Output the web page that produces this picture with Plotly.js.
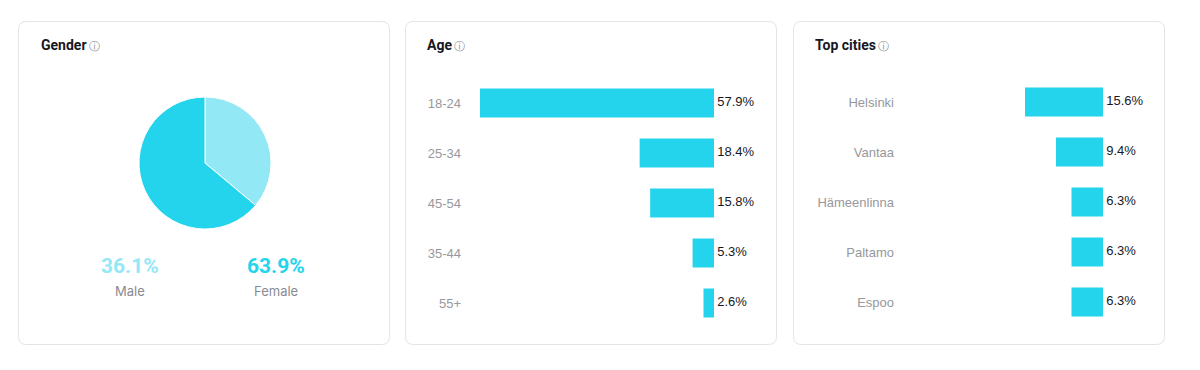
<!DOCTYPE html>
<html>
<head>
<meta charset="utf-8">
<script src="https://cdn.plot.ly/plotly-3.0.1.min.js"></script>
<style>
html,body{margin:0;padding:0;background:#fff;}
#chart{width:1200px;height:370px;}
</style>
</head>
<body>
<div id="chart"></div>
<script>
// ---- data ----
const genderLabels = ["Male", "Female"];
const genderValues = [36.1, 63.9];

const ageCategories = ["18-24", "25-34", "45-54", "35-44", "55+"];
const ageValues = [57.9, 18.4, 15.8, 5.3, 2.6];

const cityCategories = ["Helsinki", "Vantaa", "Hämeenlinna", "Paltamo", "Espoo"];
const cityValues = [15.6, 9.4, 6.3, 6.3, 6.3];

const panelTitles = ["Gender", "Age", "Top cities"];

// ---- styling ----
const W = 1200, H = 370;
const BAR = "#23d4ec";
const LIGHT = "#93e8f5";
const px = x => x / W;
const py = y => 1 - y / H;

function roundRect(x0, y0, x1, y1, r) {
  const rx = r / W, ry = r / H;
  const X0 = px(x0), X1 = px(x1), Y0 = py(y0), Y1 = py(y1);
  return `M ${X0 + rx} ${Y0} L ${X1 - rx} ${Y0} Q ${X1} ${Y0} ${X1} ${Y0 - ry} ` +
         `L ${X1} ${Y1 + ry} Q ${X1} ${Y1} ${X1 - rx} ${Y1} ` +
         `L ${X0 + rx} ${Y1} Q ${X0} ${Y1} ${X0} ${Y1 + ry} ` +
         `L ${X0} ${Y0 - ry} Q ${X0} ${Y0} ${X0 + rx} ${Y0} Z`;
}

const cards = [[18.5, 21.5, 389.5, 344.5], [405.5, 21.5, 776.5, 344.5], [793.5, 21.5, 1164.5, 344.5]];
const shapes = cards.map(c => ({
  type: "path", xref: "paper", yref: "paper", path: roundRect(c[0], c[1], c[2], c[3], 8),
  line: {color: "#e4e4e6", width: 1}, fillcolor: "rgba(0,0,0,0)", layer: "below"
}));

const titleFont = {family: "Roboto, Inter, sans-serif", size: 14, color: "#161823"};
const titleX = [39, 425, 813];
const annotations = [];
panelTitles.forEach((t, i) => {
  annotations.push({xref: "paper", yref: "paper", x: px(titleX[i]), y: py(45), xanchor: "left", yanchor: "middle",
    text: "<b>" + t + "</b><span style='font-size:9px'> </span><span style='font-family:DejaVu Sans;font-size:11px;color:#8a8b91'>ⓘ</span>",
    showarrow: false, font: titleFont});
});

// Gender percent labels
const genderColors = [LIGHT, BAR];
const genderX = [130, 276];
genderLabels.forEach((lab, i) => {
  annotations.push({xref: "paper", yref: "paper", x: px(genderX[i]), y: py(266), xanchor: "center", yanchor: "middle",
    text: "<b>" + genderValues[i].toFixed(1) + "%</b>", showarrow: false,
    font: {family: "Roboto, sans-serif", size: 21, color: genderColors[i]}});
  annotations.push({xref: "paper", yref: "paper", x: px(genderX[i]), y: py(291), xanchor: "center", yanchor: "middle",
    text: lab, showarrow: false, font: {family: "Inter, sans-serif", size: 13, color: "#8a8b91"}});
});

const labelFont = {family: "Liberation Sans, Arial, sans-serif", size: 13, color: "#161823"};

const data = [
  {
    type: "pie", labels: genderLabels, values: genderValues, sort: false, direction: "clockwise",
    rotation: 0, textinfo: "none", hoverinfo: "label+percent",
    marker: {colors: [LIGHT, BAR], line: {color: "#ffffff", width: 1}},
    domain: {x: [px(139), px(271)], y: [py(229), py(97)]}, showlegend: false
  },
  {
    type: "bar", orientation: "h", x: ageValues, y: ageCategories, xaxis: "x", yaxis: "y",
    marker: {color: BAR, line: {width: 0}}, hoverinfo: "y+x", showlegend: false
  },
  {
    type: "scatter", mode: "text", x: ageValues.map(() => 0), y: ageCategories,
    text: ageValues.map(v => "\u2005" + v.toFixed(1) + "%"), textposition: "middle right",
    textfont: labelFont, cliponaxis: false, xaxis: "x", yaxis: "y", hoverinfo: "skip", showlegend: false
  },
  {
    type: "bar", orientation: "h", x: cityValues, y: cityCategories, xaxis: "x2", yaxis: "y2",
    marker: {color: BAR, line: {width: 0}}, hoverinfo: "y+x", showlegend: false
  },
  {
    type: "scatter", mode: "text", x: cityValues.map(() => 0), y: cityCategories,
    text: cityValues.map(v => "\u2005" + v.toFixed(1) + "%"), textposition: "middle right",
    textfont: labelFont, cliponaxis: false, xaxis: "x2", yaxis: "y2", hoverinfo: "skip", showlegend: false
  }
];

const tickFont = {family: "Liberation Sans, Arial, sans-serif", size: 13, color: "#97989d"};
const ageMax = Math.max(...ageValues);
const layout = {
  width: W, height: H,
  margin: {l: 0, r: 0, t: 0, b: 0},
  paper_bgcolor: "#ffffff", plot_bgcolor: "rgba(0,0,0,0)",
  bargap: 0.42,
  xaxis: {domain: [px(480), px(714)], range: [ageMax, 0], showgrid: false, zeroline: false,
    showticklabels: false, showline: false, fixedrange: true},
  yaxis: {domain: [py(328), py(78)], autorange: "reversed", showgrid: false, zeroline: false,
    showline: false, ticks: "", tickfont: tickFont, ticklabelstandoff: 18, fixedrange: true},
  xaxis2: {domain: [px(895), px(1103)], range: [41.6, 0], showgrid: false, zeroline: false,
    showticklabels: false, showline: false, fixedrange: true, anchor: "y2"},
  yaxis2: {domain: [py(327), py(77)], autorange: "reversed", showgrid: false, zeroline: false,
    showline: false, ticks: "", tickfont: tickFont, ticklabelstandoff: 0, fixedrange: true, anchor: "x2"},
  shapes: shapes,
  annotations: annotations,
  showlegend: false
};

Plotly.newPlot("chart", data, layout, {displayModeBar: false, staticPlot: false});
</script>
</body>
</html>
